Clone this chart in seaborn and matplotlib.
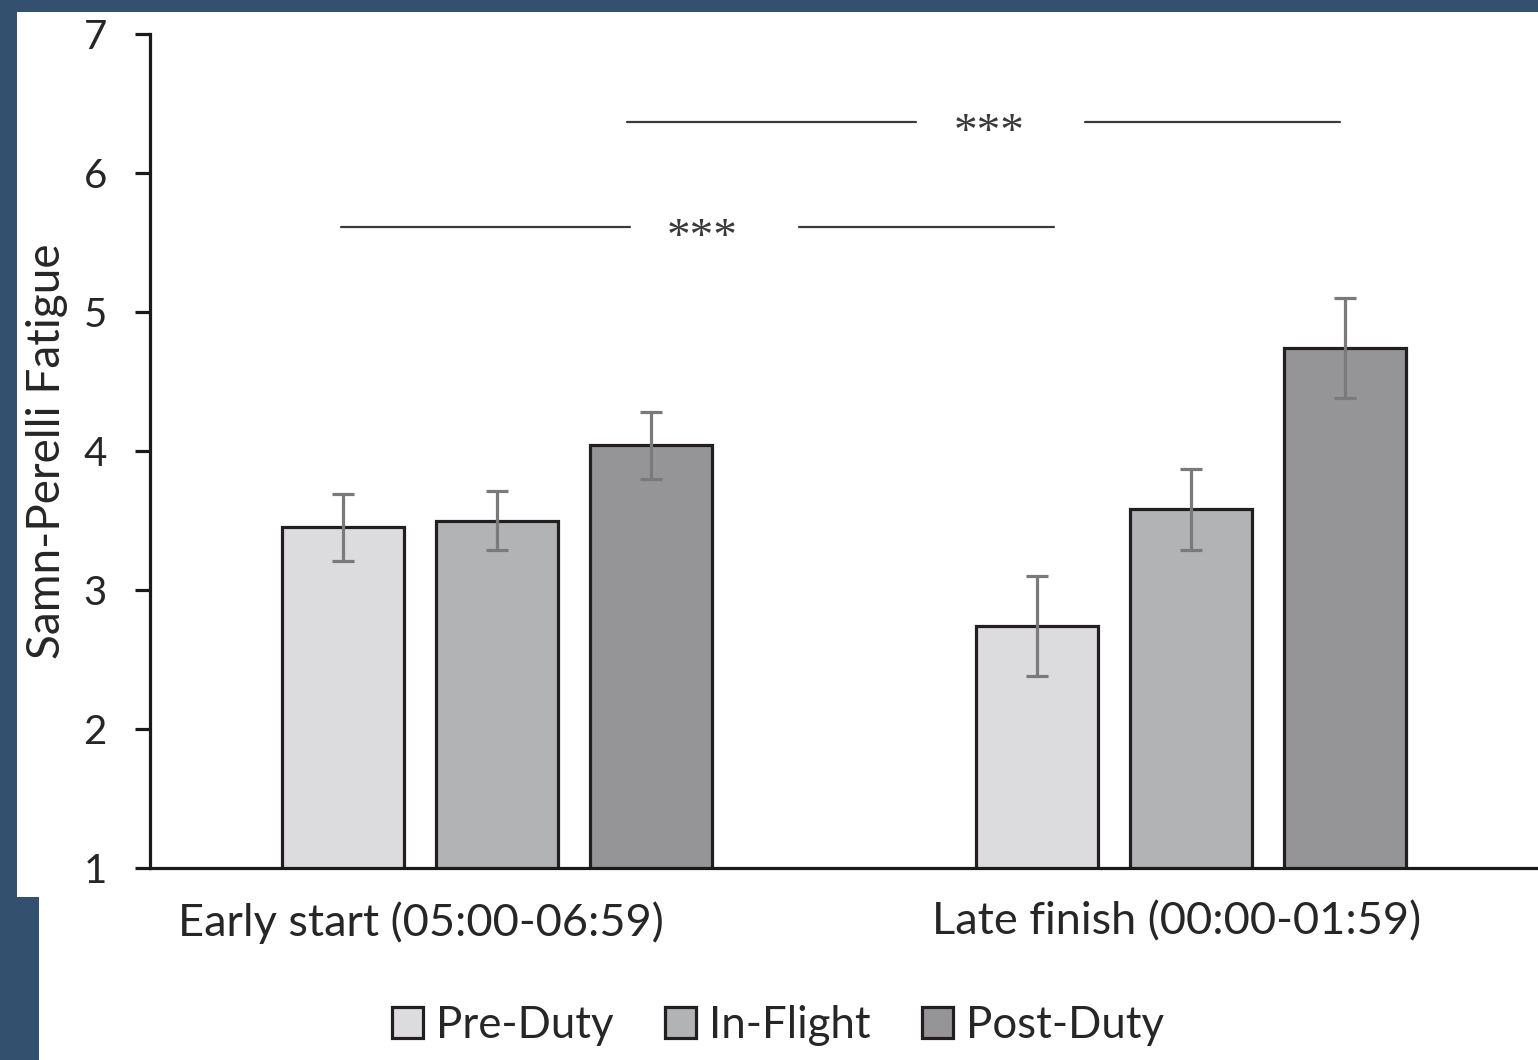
import matplotlib
matplotlib.use("Agg")
import matplotlib.pyplot as plt
import matplotlib.transforms as mtransforms
from matplotlib.patches import Polygon
import numpy as np
import pandas as pd
import seaborn as sns

# Mean Samn-Perelli fatigue ratings and standard errors per duty phase
groups = ["Early start (05:00-06:59)", "Late finish (00:00-01:59)"]
phases = ["Pre-Duty", "In-Flight", "Post-Duty"]
pre_duty = [3.45, 2.74]
in_flight = [3.50, 3.58]
post_duty = [4.04, 4.74]
pre_duty_se = [0.24, 0.36]
in_flight_se = [0.21, 0.29]
post_duty_se = [0.24, 0.36]
y_ticks = [1, 2, 3, 4, 5, 6, 7]

means = {"Pre-Duty": pre_duty, "In-Flight": in_flight, "Post-Duty": post_duty}
errs = {"Pre-Duty": pre_duty_se, "In-Flight": in_flight_se, "Post-Duty": post_duty_se}
df = pd.DataFrame(
    [(g, p, means[p][i]) for p in phases for i, g in enumerate(groups)],
    columns=["group", "phase", "fatigue"],
)

sns.set_theme(style="white")
plt.rcParams["font.family"] = ["Lato", "DejaVu Sans"]

BG = "#34506f"
TXT = "#262626"
palette = {"Pre-Duty": "#dcdcde", "In-Flight": "#b2b3b5", "Post-Duty": "#949598"}

fig = plt.figure(figsize=(15.38, 10.60), dpi=100, facecolor=BG)
# white page area
W, H = 1538, 1060
page = Polygon(
    [(17 / W, 1 - 12 / H), (1, 1 - 12 / H), (1, 0), (39 / W, 0),
     (39 / W, 1 - 897 / H), (17 / W, 1 - 897 / H)],
    closed=True, transform=fig.transFigure, facecolor="white", edgecolor="none", zorder=-5,
)
fig.patches.append(page)

ax = fig.add_axes([150 / W, 1 - 868 / H, 1 - 150 / W, (868 - 34) / H])
ax.set_facecolor("none")
ax.set_zorder(2)

sns.barplot(
    data=df, x="group", y="fatigue", hue="phase", order=groups, hue_order=phases,
    palette=palette, width=0.666, gap=0.21, errorbar=None,
    edgecolor="#231f20", linewidth=2.3, ax=ax, zorder=2,
)

# standard error bars
for cont, ph in zip(ax.containers, phases):
    xs = [b.get_x() + b.get_width() / 2 for b in cont]
    ys = [b.get_height() for b in cont]
    ax.errorbar(xs, ys, yerr=errs[ph], fmt="none", ecolor="#7a7a7a",
                elinewidth=2.3, capsize=8, capthick=2.3, zorder=3)

ax.set_ylim(1, 7)
ax.set_xlim(-0.5, 1.5)
ax.set_yticks(y_ticks)
ax.set_xlabel("")
ax.set_ylabel("Samn-Perelli Fatigue", fontsize=33, color=TXT, labelpad=11)

sns.despine(ax=ax, top=True, right=True)
for s in ["left", "bottom"]:
    ax.spines[s].set_color("#1a1a1a")
    ax.spines[s].set_linewidth(2.3)

ax.tick_params(axis="y", which="major", direction="out", length=11, width=2.3,
               color="#1a1a1a", pad=20, labelsize=29, labelcolor=TXT, left=True)
ax.tick_params(axis="x", length=0, pad=24, labelsize=32.5, labelcolor=TXT)

# nudge category labels
shifts = [-0.76, -0.14]
for lab, dx in zip(ax.get_xticklabels(), shifts):
    lab.set_transform(lab.get_transform() +
                      mtransforms.ScaledTranslation(dx, 0, fig.dpi_scale_trans))

# significance brackets
def sig_line(x0, x1, xs, x2, x3, y):
    ax.plot([x0, x1], [y, y], color="#3a3a3a", lw=1.6, zorder=4, clip_on=False)
    ax.plot([x2, x3], [y, y], color="#3a3a3a", lw=1.6, zorder=4, clip_on=False)
    ax.text(xs, y, "***", ha="center", va="center", fontsize=34, color="#3a3a3a",
            family=["Liberation Serif", "DejaVu Serif"],
            transform=ax.transData + mtransforms.ScaledTranslation(0, -0.12, fig.dpi_scale_trans))

sig_line(-0.225, 0.192, 0.295, 0.435, 0.803, 5.61)
sig_line(0.187, 0.604, 0.709, 0.847, 1.215, 6.37)

handles, labels = ax.get_legend_handles_labels()
if ax.get_legend() is not None:
    ax.get_legend().remove()
fig.legend(handles, labels, loc="center", bbox_to_anchor=(778 / W, 1 - 1025 / H),
           ncol=3, frameon=False, fontsize=31.5, handlelength=0.7, handleheight=0.7,
           handletextpad=0.3, columnspacing=1.18, labelcolor=TXT)

fig.savefig("out.png", dpi=100, facecolor=BG)
